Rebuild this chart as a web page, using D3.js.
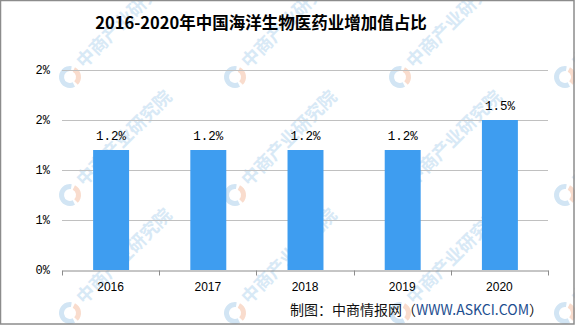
<!DOCTYPE html>
<html>
<head>
<meta charset="utf-8">
<script src="https://cdn.jsdelivr.net/npm/d3@7"></script>
<style>
  body { margin: 0; background: #fff; }
  svg { display: block; }
</style>
</head>
<body>
<svg id="chart" width="575" height="326"></svg>
<script>
// data
const years = ['2016', '2017', '2018', '2019', '2020'];
const shares = [1.2, 1.2, 1.2, 1.2, 1.5];
const valueLabels = ['1.2%', '1.2%', '1.2%', '1.2%', '1.5%'];
const yTicks = [0, 0.5, 1, 1.5, 2];
const yTickLabels = ['0%', '1%', '1%', '2%', '2%'];

const W = 575, H = 326;
const margin = {top: 70, right: 27, bottom: 56, left: 62};
const width = W - margin.left - margin.right,
      height = H - margin.top - margin.bottom;

const svg = d3.select('#chart');

// watermark (中商产业研究院) drawn first so it sits behind
const wm = svg.append('g').attr('class', 'watermark');
const wmX = [70, 235, 400, 565], wmY = [77, 195, 313];
wmY.forEach(cy => wmX.forEach(cx => {
  const g = wm.append('g').attr('transform', 'translate(' + cx + ',' + cy + ')');
  const arc = d3.arc().innerRadius(6).outerRadius(11);
  g.append('path')
    .attr('d', arc({startAngle: Math.PI * 0.15, endAngle: Math.PI * 0.75}))
    .attr('fill', '#f9dccd');
  g.append('path')
    .attr('d', arc({startAngle: Math.PI * 0.85, endAngle: Math.PI * 2.05}))
    .attr('fill', '#d2e5f4');
  g.append('text')
    .attr('transform', 'translate(14,-8)rotate(-45)')
    .attr('font-family', '"Noto Sans CJK SC", sans-serif')
    .attr('font-size', 18)
    .attr('font-weight', 'bold')
    .attr('fill', '#d8e9f6')
    .text('中商产业研究院');
}));

// outer border
svg.append('rect')
  .attr('x', 0.5).attr('y', 0.5)
  .attr('width', W - 1.5).attr('height', H - 2.5)
  .attr('fill', 'none')
  .attr('stroke', '#8c8c8c')
  .attr('stroke-width', 1.5);

const g = svg.append('g')
  .attr('transform', 'translate(' + margin.left + ',' + margin.top + ')');

const x = d3.scaleBand()
  .domain(years)
  .range([0, width]);

const y = d3.scaleLinear()
  .domain([0, 2])
  .range([height, 0]);

// gridlines
g.selectAll('line.grid')
  .data(yTicks.filter(d => d > 0))
  .enter().append('line')
  .attr('class', 'grid')
  .attr('x1', 0).attr('x2', width)
  .attr('y1', d => Math.round(y(d)) + 0.5)
  .attr('y2', d => Math.round(y(d)) + 0.5)
  .attr('stroke', '#c0c0c0');

// y axis labels
const yAxis = d3.axisLeft(y)
  .tickValues(yTicks)
  .tickSize(0)
  .tickPadding(12)
  .tickFormat((d, i) => yTickLabels[i]);

g.append('g')
  .attr('class', 'y_axis')
  .call(yAxis)
  .call(a => a.select('.domain').remove())
  .selectAll('text')
  .attr('font-family', '"Liberation Mono", monospace')
  .attr('font-size', 12)
  .attr('fill', '#000');

// bars
const barW = x.bandwidth() * 0.37;
g.selectAll('rect.bar')
  .data(shares)
  .enter().append('rect')
  .attr('class', 'bar')
  .attr('x', (d, i) => x(years[i]) + (x.bandwidth() - barW) / 2 + 0.5)
  .attr('y', d => y(d))
  .attr('width', barW)
  .attr('height', d => height - y(d))
  .attr('fill', '#3e9df0');

// value labels
g.selectAll('text.val')
  .data(shares)
  .enter().append('text')
  .attr('class', 'val')
  .attr('x', (d, i) => x(years[i]) + x.bandwidth() / 2 + 0.5)
  .attr('y', d => y(d) - 10)
  .attr('text-anchor', 'middle')
  .attr('font-family', '"Liberation Mono", monospace')
  .attr('font-size', 12.5)
  .attr('fill', '#000')
  .text((d, i) => valueLabels[i]);

// x axis
const xAxis = d3.axisBottom(x)
  .tickSize(0)
  .tickPadding(12);

const xa = g.append('g')
  .attr('transform', 'translate(0,' + (height + 0.5) + ')')
  .call(xAxis);
xa.select('.domain').attr('stroke', '#8c8c8c');
xa.selectAll('text')
  .attr('font-family', '"Liberation Sans", Arial, sans-serif')
  .attr('font-size', 12)
  .attr('fill', '#000');

// boundary tick marks between categories
const edges = years.map(d => x(d)).concat([width]);
xa.selectAll('line.edge')
  .data(edges)
  .enter().append('line')
  .attr('class', 'edge')
  .attr('x1', d => Math.round(d) + 0.5).attr('x2', d => Math.round(d) + 0.5)
  .attr('y1', 0).attr('y2', 5)
  .attr('stroke', '#8c8c8c');

// title
svg.append('text')
  .attr('x', 261)
  .attr('y', 29)
  .attr('text-anchor', 'middle')
  .attr('font-family', '"Noto Sans CJK SC", sans-serif')
  .attr('font-weight', 'bold')
  .attr('font-size', 16.5)
  .attr('fill', '#000')
  .text('2016-2020年中国海洋生物医药业增加值占比');

// source
const src = svg.append('text')
  .attr('x', 543)
  .attr('y', 315)
  .attr('text-anchor', 'end')
  .attr('font-family', '"Noto Sans CJK SC", sans-serif')
  .attr('font-size', 14)
  .attr('fill', '#111');
src.append('tspan').text('制图：中商情报网（');
src.append('tspan').attr('fill', '#1d4e8f').text('WWW.ASKCI.COM');
src.append('tspan').text('）');
</script>
</body>
</html>
